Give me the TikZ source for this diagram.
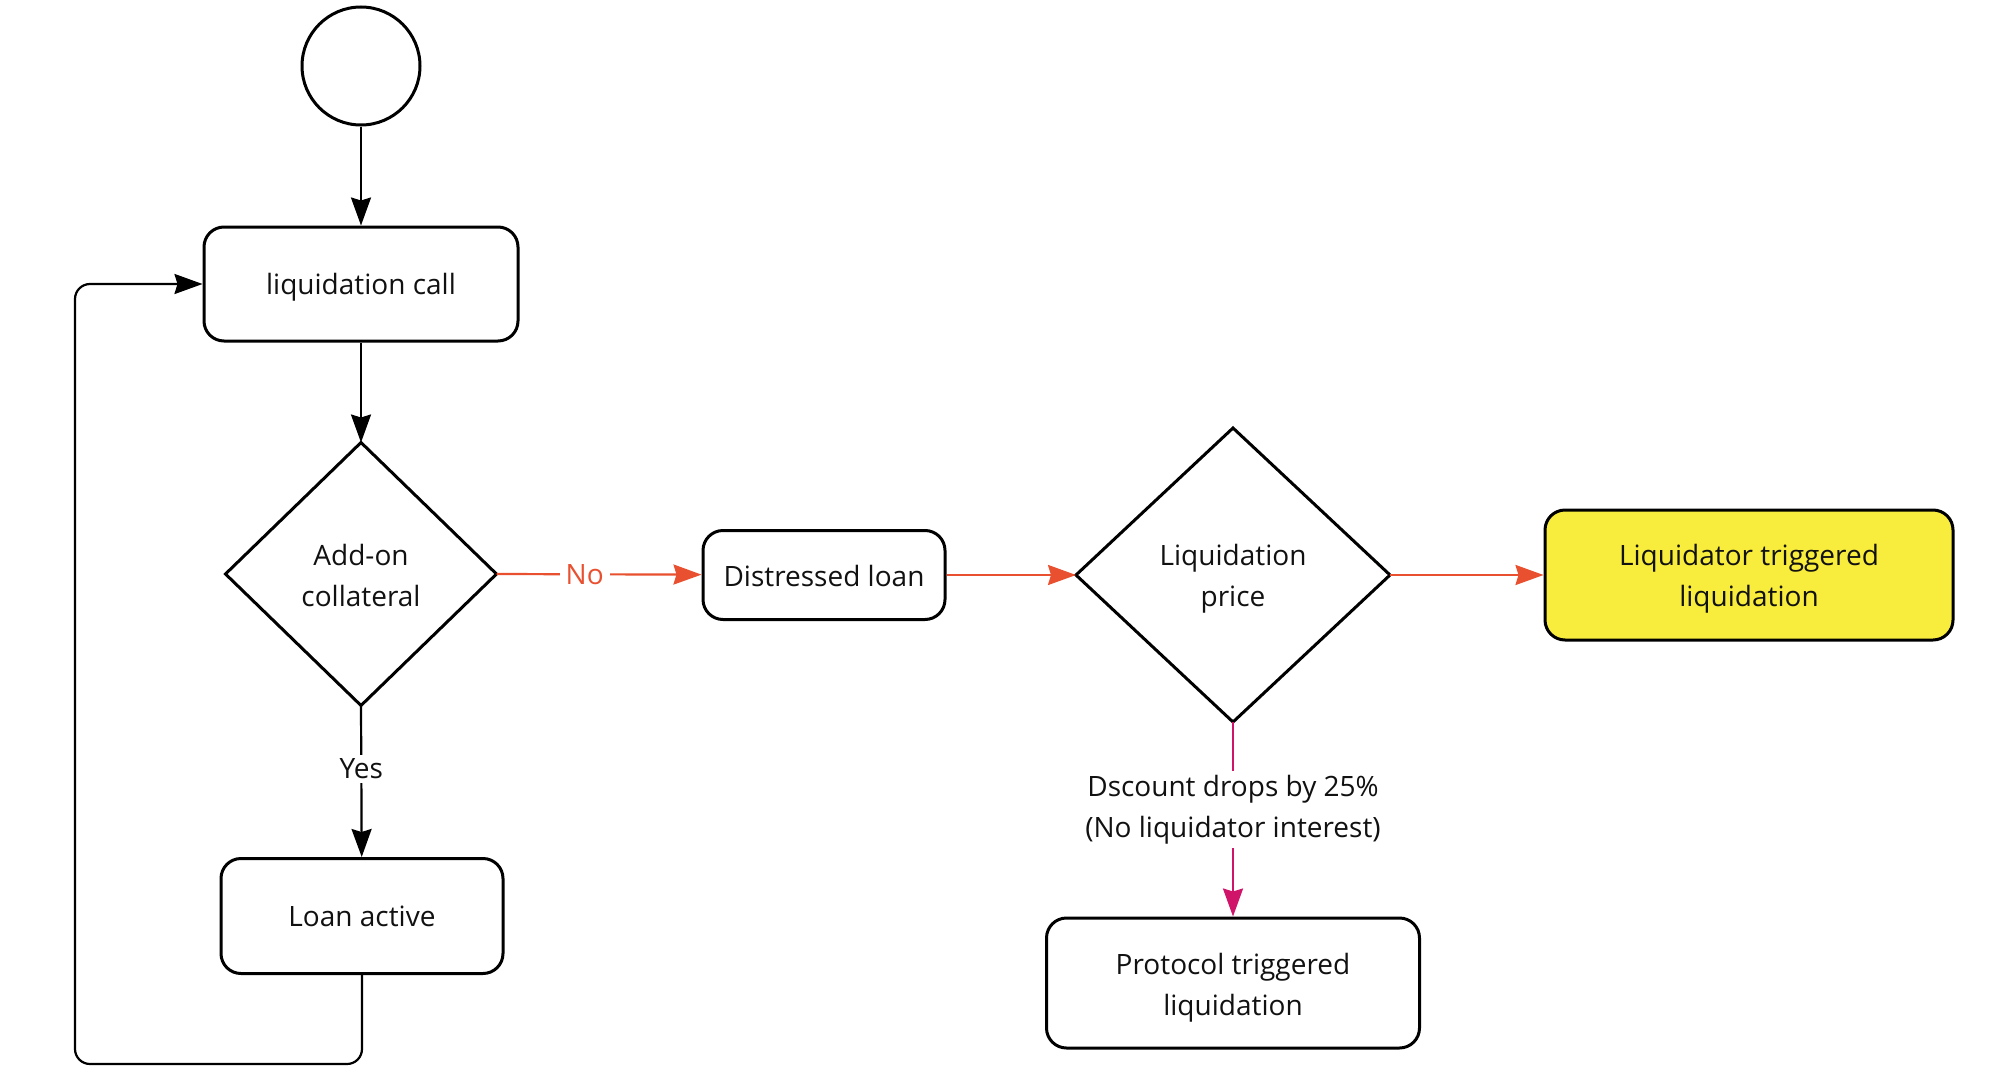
\documentclass[tikz,border=0pt]{standalone}
\usepackage{fontspec}
\setmainfont{Open Sans}
\usetikzlibrary{shapes.geometric,arrows.meta}
\definecolor{txt}{HTML}{111111}
\definecolor{redl}{HTML}{E8502F}
\definecolor{magl}{HTML}{D0146A}
\definecolor{yel}{HTML}{F8EC3C}
\tikzset{
  base/.style={draw=black,line width=3pt,inner sep=0pt},
  rbox/.style={base,rectangle,rounded corners=20pt},
  txtnode/.style={text=txt,font=\fontsize{28}{41}\selectfont,align=center,inner sep=0pt},
  conn/.style={line width=2.2pt,-{Stealth[length=28pt,width=20pt,inset=3pt]}},
  lbl/.style={fill=white,text=txt,font=\fontsize{28}{41}\selectfont,align=center,inner sep=4pt}
}
\begin{document}
\begin{tikzpicture}[x=1pt,y=-1pt]
\path[use as bounding box,fill=white] (0,0) rectangle (2000,1073);
\node[base,circle,minimum size=118pt] (start) at (361,66) {};
\node[rbox,minimum width=314pt,minimum height=114pt] (call) at (361,284) {};
\node[base,draw=none,minimum width=268pt,minimum height=260pt] (addon) at (361,574) {};
\draw[line width=3pt] (addon.west) -- (addon.north) -- (addon.east) -- (addon.south) -- cycle;
\node[rbox,minimum width=242pt,minimum height=89pt] (dist) at (824,575) {};
\node[base,draw=none,minimum width=311pt,minimum height=291pt] (price) at (1233,575) {};
\draw[line width=3pt] (price.west) -- (price.north) -- (price.east) -- (price.south) -- cycle;
\node[rbox,fill=yel,minimum width=408pt,minimum height=130pt] (liq) at (1749,575) {};
\node[rbox,minimum width=282pt,minimum height=115pt] (active) at (362,916) {};
\node[rbox,minimum width=373pt,minimum height=130pt] (proto) at (1233,983) {};
% texts
\node[txtnode] (callT) at ([yshift=-3pt]call.center) {liquidation call};
\node[txtnode] (addonT) at ([yshift=-1pt]addon.center) {Add-on\\collateral};
\node[txtnode] (distT) at ([yshift=-1pt]dist.center) {Distressed loan};
\node[txtnode] (priceT) at ([yshift=-4pt]price.center) {Liquidation\\price};
\node[txtnode] (liqT) at ([yshift=-4pt]liq.center) {Liquidator triggered\\liquidation};
\node[txtnode] (activeT) at ([yshift=0pt]active.center) {Loan active};
\node[txtnode] (protoT) at ([yshift=-5pt]proto.center) {Protocol triggered\\liquidation};
\coordinate (loopA) at (362,1064);
\coordinate (loopB) at (75,1064);
\coordinate (loopC) at (75,284);
% connectors
\draw[conn] (start) -- (call);
\draw[conn] (call) -- (addon.north);
\draw[conn] (addon.south) -- node[lbl,pos=0.42] (yes) {Yes} (active);
\draw[conn,redl] (addon.east) -- node[lbl,text=redl,pos=0.43,inner sep=6pt] (no) {No} (dist);
\draw[conn,redl] (dist) -- (price.west);
\draw[conn,redl] (price.east) -- (liq);
\draw[conn,magl] (price.south) -- node[lbl,pos=0.45] (disc) {Dscount drops by 25\%\\(No liquidator interest)} (proto);
\draw[conn,rounded corners=15pt] (active.south) -- (loopA) -- (loopB) -- (loopC) -- (call.west);
\end{tikzpicture}
\end{document}
